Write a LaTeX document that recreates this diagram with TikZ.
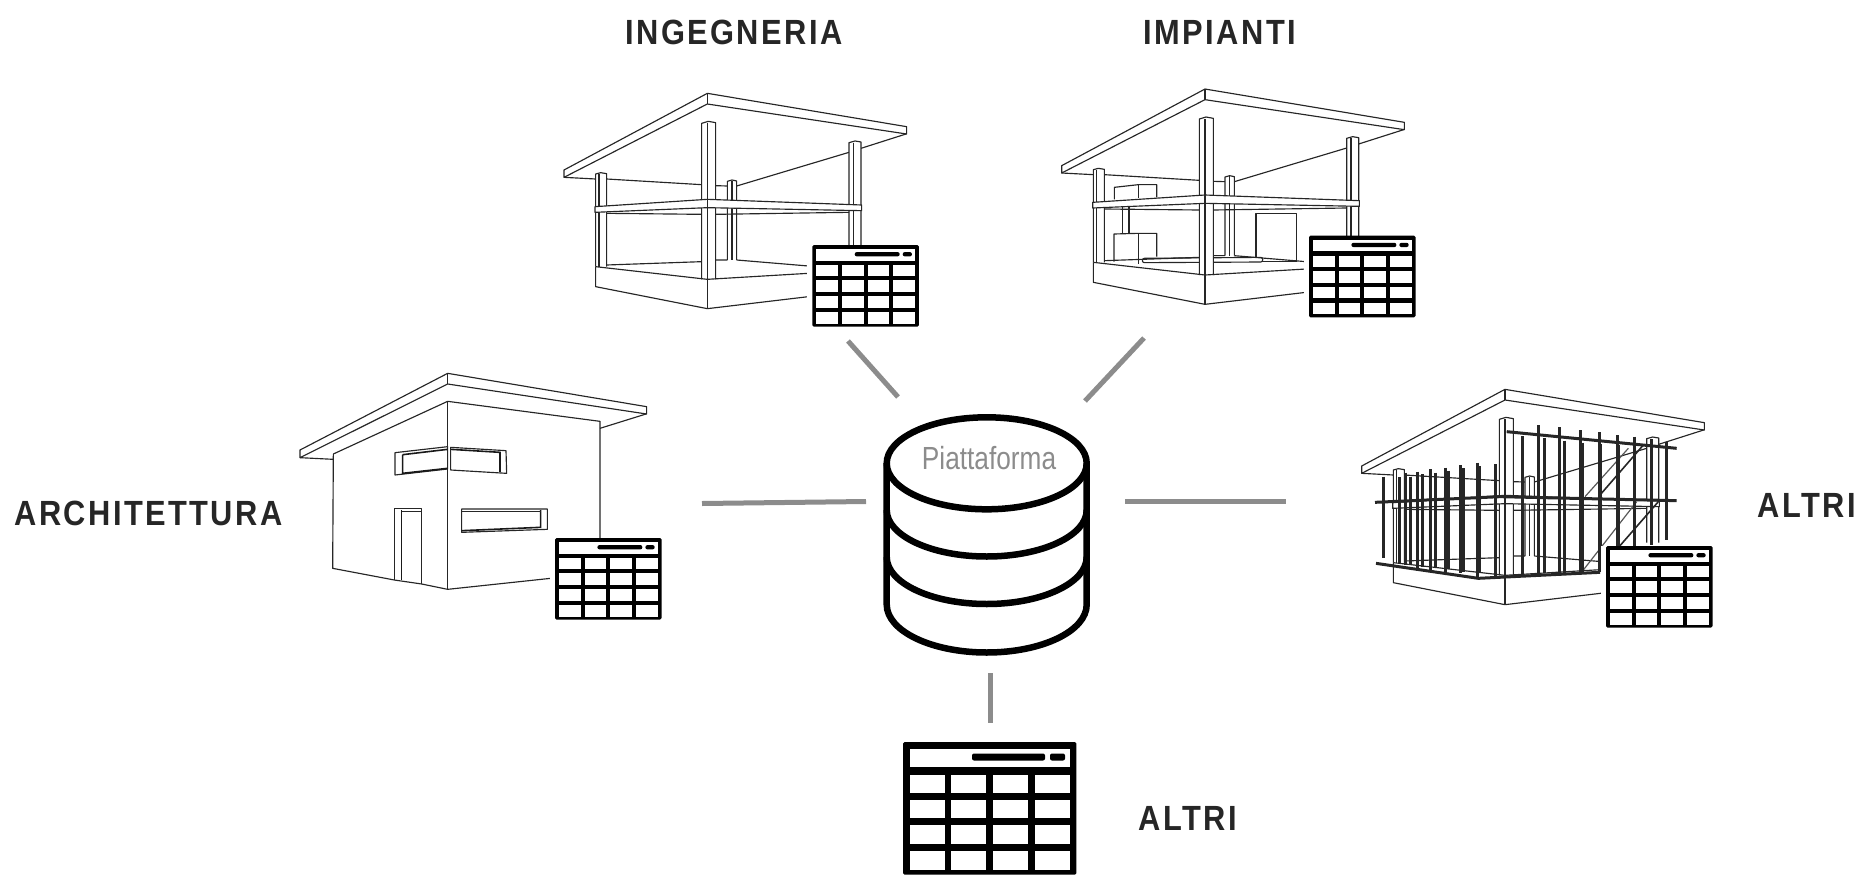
\documentclass[tikz,border=0pt]{standalone}
\usepackage{fontspec}
\setmainfont{Liberation Sans}
\newfontfamily\labelfont[FakeStretch=0.88,LetterSpace=7]{Liberation Sans Bold}
\newfontfamily\hubfont[FakeStretch=0.82]{Liberation Sans}
\definecolor{linkgray}{HTML}{8C8C8C}
\definecolor{inkblack}{HTML}{262626}
\tikzset{
  sheet/.style={font=\labelfont\fontsize{35}{35}\selectfont,text=inkblack,inner sep=0pt},
  link/.style={draw=linkgray,line width=5pt},
  thinline/.style={line width=1.15pt,line join=round,draw=black!85},
  heavy/.style={line width=1.6pt,draw=black!90},
  rebar/.style={line width=3pt,draw=black!85},
  brace/.style={line width=1.2pt,draw=black!65},
  tableicon/.pic={
    \fill [white] (-8,0) rectangle (173,133);
    \fill [black,rounded corners=1.5pt] (0,0) rectangle (173.3,132.7);
    \fill [white] (6.7,7) rectangle (166.7,25.3);
    \fill [black,rounded corners=2pt] (69,11.5) rectangle (142,18.5);
    \fill [black,rounded corners=2pt] (147,11.5) rectangle (162,18.5);
    \foreach\l/\r in {6.7/41.7,48.3/83.3,90/125,132/166.7}
      \foreach\t/\b in {32.7/51,57.7/76.3,83.3/101.7,108.7/127.7}
        \fill [white] (\l,\t) rectangle (\r,\b);
  },
  framepic/.pic={
    % roof
    \draw [thinline] (42,270) -- (472,40) -- (1070,140) -- (1070,162) -- (472,72) -- (42,292) -- cycle;
    \draw [thinline] (472,40) -- (472,72);
    % back beams
    \draw [thinline] (42,292) -- (137,297) (170,297) -- (455,314) (497,317) -- (532,318);
    \draw [thinline] (560,318) -- (897,217) (933,205) -- (1068,162);
    % floor
    \draw [thinline] (170,555) -- (455,545) (497,540) -- (532,540) (560,540) -- (775,558);
    % columns
    \draw [thinline,fill=white] (532,540) -- (532,304) -- (546,300) -- (560,303) -- (560,540);
    \draw [thinline] (546,302) -- (546,540);
    \draw [thinline,fill=white] (137,560) -- (137,282) -- (152,278) -- (170,281) -- (170,560);
    \draw [thinline] (147,282) -- (147,560);
    \draw [thinline,fill=white] (897,500) -- (897,188) -- (915,183) -- (933,186) -- (933,500);
    \draw [thinline] (910,188) -- (910,500);
    \draw [thinline,fill=white] (455,598) -- (455,130) -- (475,124) -- (497,128) -- (497,598);
    \draw [thinline] (472,130) -- (472,598);
    % slab
    \draw [thinline,fill=white] (135,380) -- (472,358) -- (935,375) -- (935,392) -- (472,383) -- (135,397) -- cycle;
    \draw [thinline] (472,358) -- (472,383);
    \draw [thinline] (170,400) -- (455,403) (497,403) -- (897,397);
    % base
    \draw [thinline] (137,560) -- (472,598) -- (775,580);
    \draw [thinline] (137,560) -- (137,620) -- (472,686) -- (775,650);
    \draw [thinline] (472,598) -- (472,686);
  }
}
\begin{document}
\begin{tikzpicture}[x=1pt,y=-1pt]
  \useasboundingbox (0,0) rectangle (1862,875);

  % architettura
  \begin{scope}[shift={(280,360)},scale=1/3]
    \draw [thinline] (60,270) -- (503,40) -- (1100,140) -- (1100,162) -- (503,72) -- (60,293) -- cycle;
    \draw [thinline] (503,40) -- (503,72);
    \draw [thinline] (60,293) -- (160,298) (960,205) -- (1098,162);
    \draw [thinline] (160,282) -- (503,124) -- (960,184) -- (960,535);
    \draw [thinline] (160,282) -- (158,625) -- (343,660) -- (425,672) -- (503,688) -- (812,655);
    \draw [thinline] (503,124) -- (503,688);
    % windows
    \draw [thinline] (345,278) -- (503,260) -- (503,327) -- (345,345) -- cycle;
    \draw [heavy] (368,284) -- (503,268) (368,284) -- (368,340) -- (503,325);
    \draw [thinline] (512,262) -- (678,272) -- (680,340) -- (512,330) -- cycle;
    \draw [heavy] (512,268) -- (660,277) -- (660,336);
    \draw [thinline] (545,447) -- (802,447) -- (802,508) -- (545,517) -- cycle;
    \draw [heavy] (545,512) -- (782,502) -- (782,450);
    \draw [thinline] (545,454) -- (782,454);
    % door
    \draw [thinline] (343,660) -- (343,445) -- (425,445) -- (425,672);
    \draw [thinline] (365,455) -- (425,455);
    \draw [heavy] (365,450) -- (365,660);
  \end{scope}
  \pic [scale=0.615] at (555,538) {tableicon};

  % ingegneria
  \pic [scale=1/3] at (550,80) {framepic};
  \pic [scale=0.615] at (812.3,245) {tableicon};

  % impianti
  \begin{scope}[shift={(1050,80)},scale=1/3]
    \draw [thinline] (193,358) -- (193,322) -- (265,314) -- (320,314) -- (320,352);
    \draw [thinline] (265,314) -- (265,354);
    \draw [thinline] (218,382) -- (218,460) (237,382) -- (237,460);
    \draw [thinline] (192,545) -- (192,462) -- (265,460) -- (320,460) -- (320,530);
    \draw [thinline] (265,460) -- (265,553);
    \draw [thinline] (618,530) -- (618,400) -- (740,400) -- (740,545);
    \draw [thinline] (630,545) -- (740,545);
    \draw [thinline,fill=white,rounded corners=2pt] (277,535) -- (638,532) -- (638,546) -- (277,548) -- cycle;
  \end{scope}
  \pic [scale=1/3] at (1047.67,75.67) {framepic};
  \pic [scale=0.615] at (1309,235.7) {tableicon};

  % altri
  \pic [scale=1/3] at (1347.67,376) {framepic};
  \begin{scope}[shift={(1350,380)},scale=1/3]
    \draw [rebar] (75,367) -- (450,350) -- (980,362);
    \draw [rebar] (470,155) -- (980,205);
    \draw [rebar] (78,550) -- (385,595) -- (750,577);
    \draw [brace] (835,205) -- (705,350) (860,365) -- (700,570);
    \draw [rebar,line width=1.6pt] (880,195) -- (750,345) (925,365) -- (810,497);
    \foreach\x/\t/\b in {99/290/535,147/292/548,165/278/555,181/290/552,202/275/565,217/283/560,
        241/268/570,255/278/562,285/263/575,295/272/568,331/255/580,340/265/575,381/248/590,
        388/258/578,437/252/588,518/168/585,565/135/590,582/175/580,629/142/588,642/182/578,
        690/150/582,697/188/575,747/157/575,752/193/570,801/165/500,806/195/500,853/170/500,
        905/178/495,950/185/480}
      \draw [rebar] (\x,\t) -- (\x,\b);
  \end{scope}
  \pic [scale=0.615] at (1606,546) {tableicon};

  % database
  \draw [line width=6.5pt] (886.7,463.3) -- (886.7,604.5) arc (180:0:100 and 48) -- (1086.7,463.3);
  \draw [line width=6.5pt] (986.7,463.3) ellipse (100 and 46);
  \draw [line width=6.5pt] (886.7,510) arc (180:0:100 and 46.5);
  \draw [line width=6.5pt] (886.7,557) arc (180:0:100 and 47);
  \node (hub) at (989,458.5) [font=\hubfont\fontsize{32}{32}\selectfont,text=linkgray,inner sep=0pt] {Piattaforma};

  \pic [scale=1] at (903,742) {tableicon};

  % labels
  \node (arch) at (148.5,513.5) [sheet] {ARCHITETTURA};
  \node (ing) at (734,32) [sheet] {INGEGNERIA};
  \node (imp) at (1220,32) [sheet] {IMPIANTI};
  \node (altriA) at (1807,505) [sheet] {ALTRI};
  \node (altriB) at (1188,818) [sheet] {ALTRI};

  % links
  \coordinate (a1) at (702,503.5);  \coordinate (a2) at (866,501.5);
  \coordinate (b1) at (848,341);    \coordinate (b2) at (898,397);
  \coordinate (c1) at (1144,338);   \coordinate (c2) at (1085,401);
  \coordinate (d1) at (1125,501);   \coordinate (d2) at (1286,501);
  \coordinate (e1) at (990,673);    \coordinate (e2) at (990,723);
  \foreach\s/\t in {a1/a2,b1/b2,c1/c2,d1/d2,e1/e2}
    \draw [link] (\s) -- (\t);
\end{tikzpicture}
\end{document}
